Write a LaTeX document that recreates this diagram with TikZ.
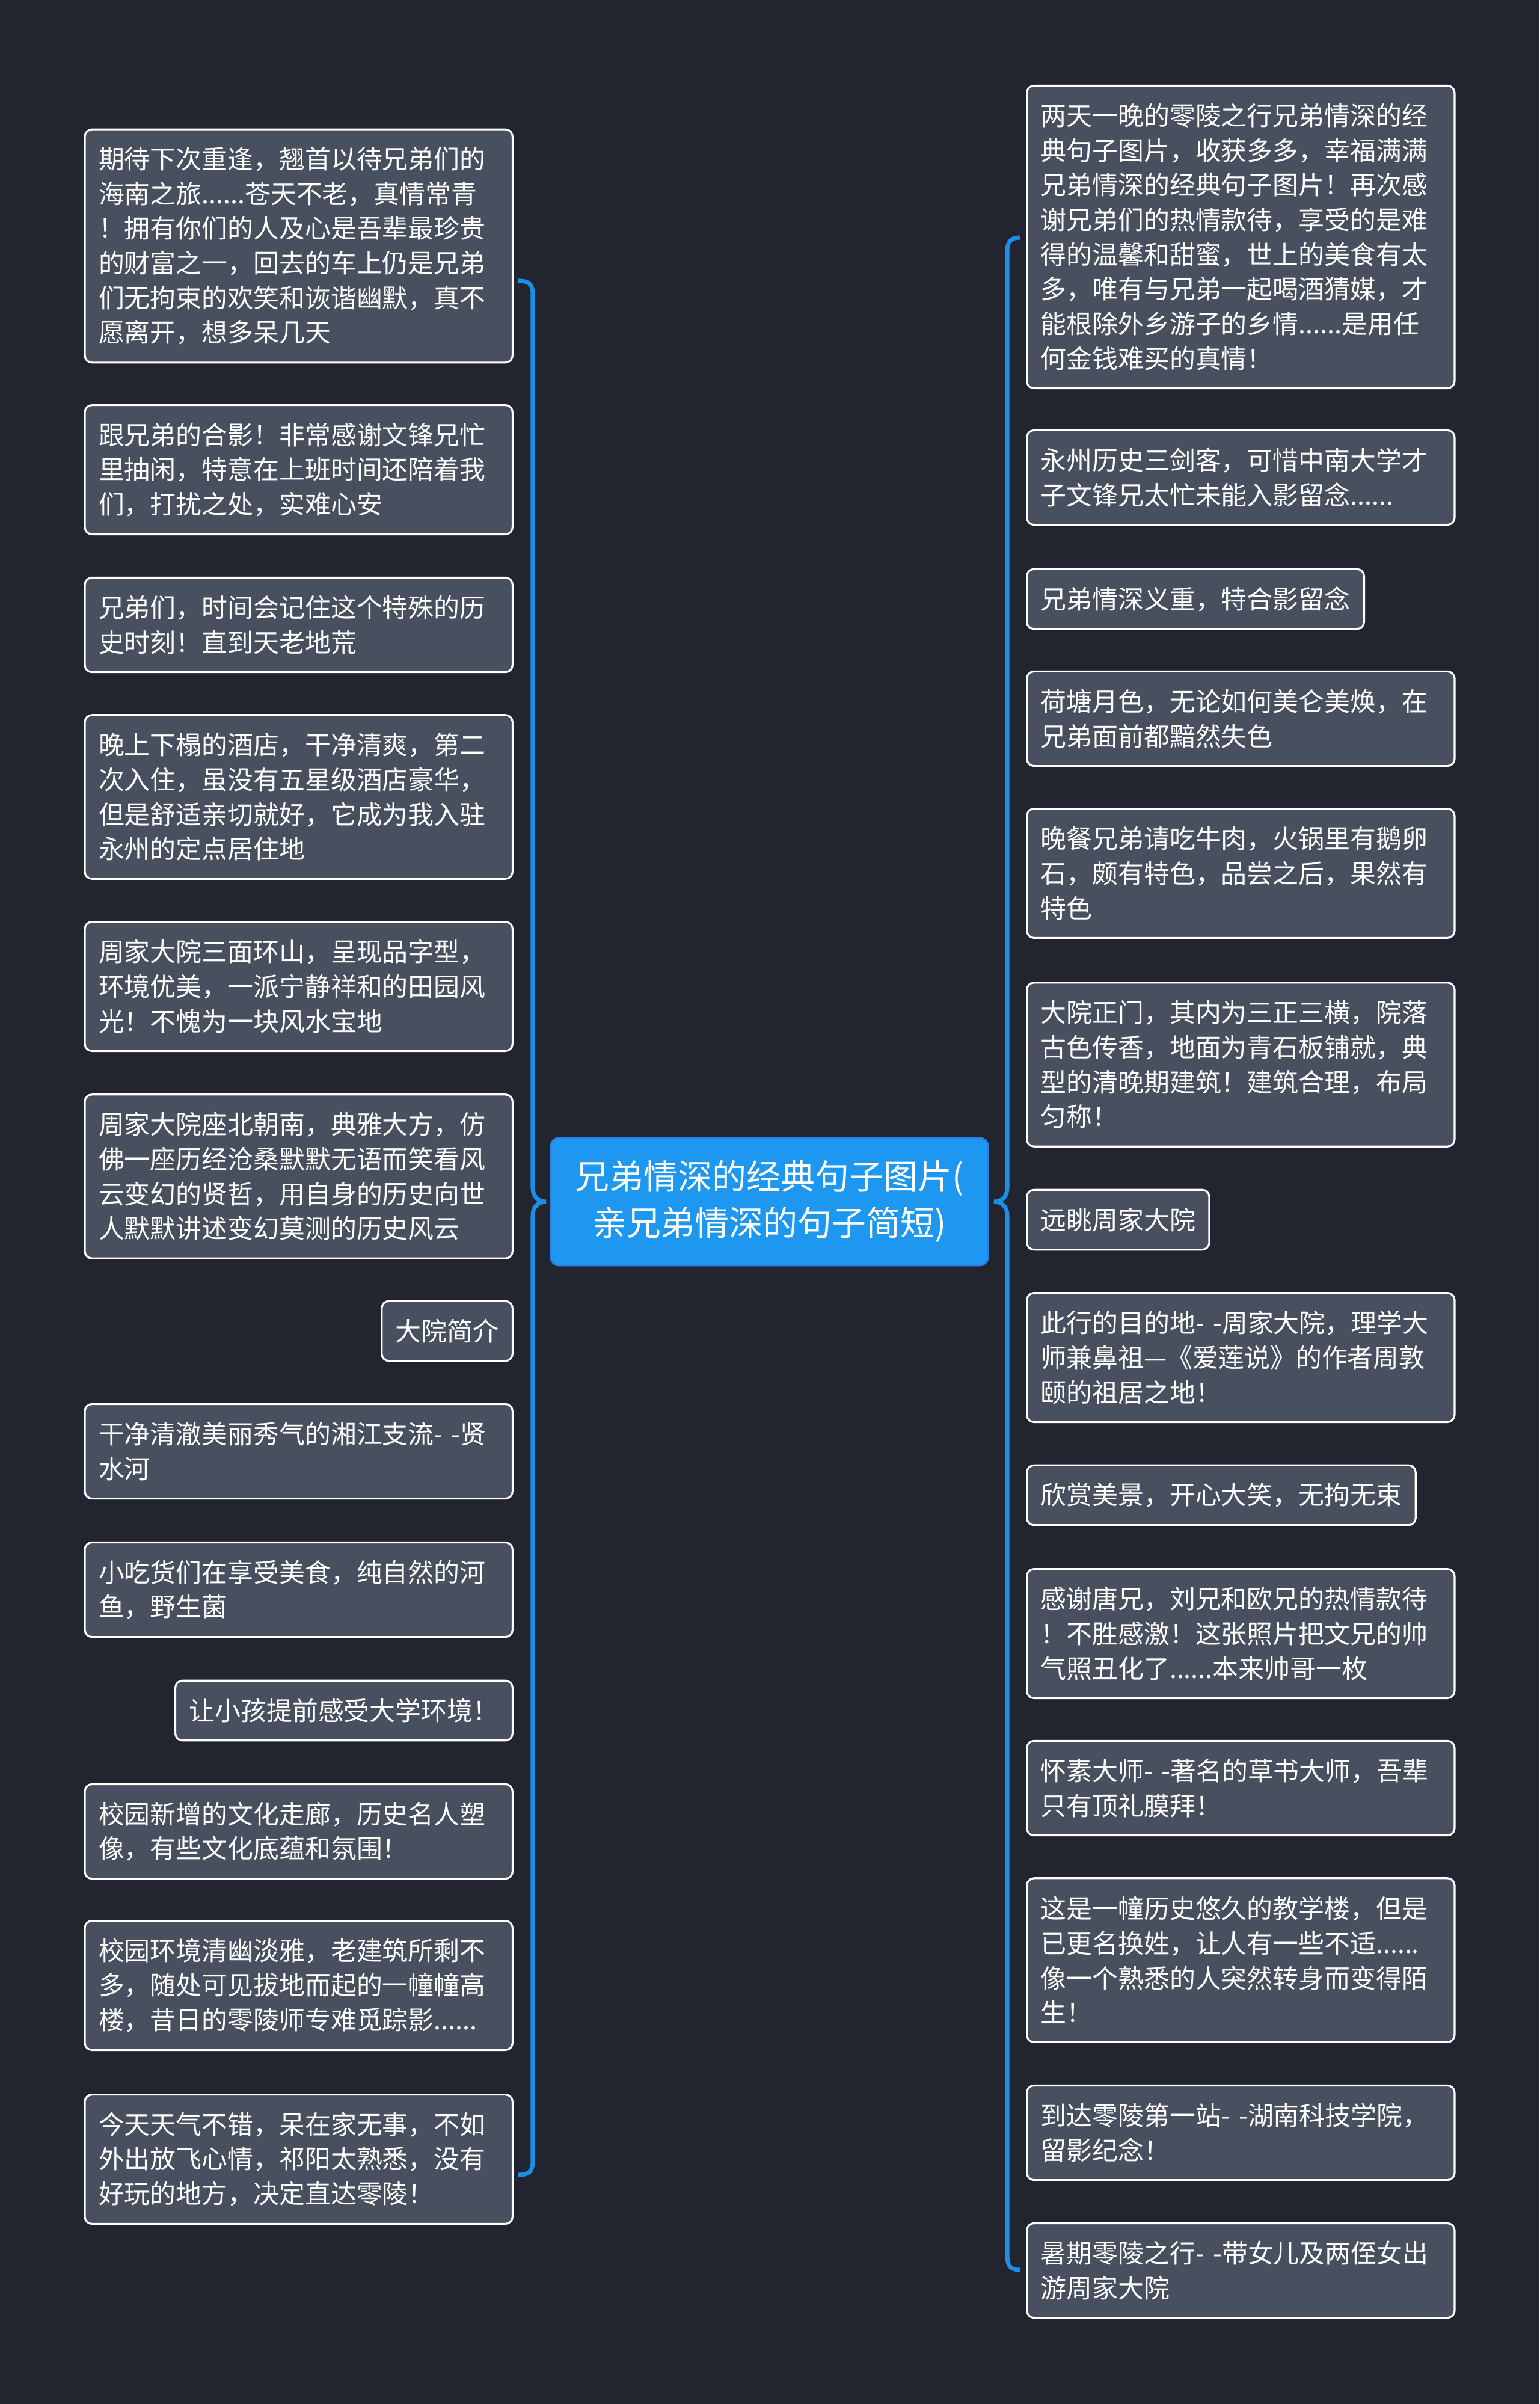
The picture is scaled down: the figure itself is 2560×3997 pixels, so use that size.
\documentclass[tikz,border=0pt]{standalone}
\usepackage{fontspec}
\setmainfont{Noto Sans CJK SC}
\usetikzlibrary{positioning}
\definecolor{bgDark}{HTML}{22252F}
\definecolor{leafFill}{HTML}{484F5E}
\definecolor{branchBlue}{HTML}{1B8FE8}
\definecolor{topicBlue}{HTML}{1D97F0}
\definecolor{topicEdge}{HTML}{2F7DEB}
\tikzset{
    leaf/.style={draw=white, line width=0.9pt, fill=leafFill, text=white, rounded corners=0.12cm,
        inner xsep=0.23cm, inner ysep=0pt, minimum height=0.419cm+#1*0.576cm, align=left},
    para/.style={leaf=#1, text width=6.65cm}
}

\begin{document}
\begin{tikzpicture}[x=0.01cm, y=-0.01cm, font=\fontsize{12.2}{16.4}\selectfont,
        topic/.style={fill=topicBlue, draw=topicEdge, line width=0.8pt, rounded corners=0.14cm,
            text=white, font=\fontsize{16.2}{21.9}\selectfont, align=center,
            minimum width=7.27cm, minimum height=2.12cm},
        branch/.style={draw=branchBlue, line width=2pt}]
        \fill[bgDark] (0,0) rectangle (2560,3997);
        \useasboundingbox (0,0) rectangle (2560,3997);
        \node[topic] (c) at (1279.5,1998) {兄弟情深的经典句子图片(\\亲兄弟情深的句子简短)};
        % left column
        \node[para=6, anchor=east] (l1)  at (854,409)  {期待下次重逢，翘首以待兄弟们的\\海南之旅......苍天不老，真情常青\\！拥有你们的人及心是吾辈最珍贵\\的财富之一，回去的车上仍是兄弟\\们无拘束的欢笑和诙谐幽默，真不\\愿离开，想多呆几天};
        \node[para=3, anchor=east] (l2)  at (854,781)  {跟兄弟的合影！非常感谢文锋兄忙\\里抽闲，特意在上班时间还陪着我\\们，打扰之处，实难心安};
        \node[para=2, anchor=east] (l3)  at (854,1039) {兄弟们，时间会记住这个特殊的历\\史时刻！直到天老地荒};
        \node[para=4, anchor=east] (l4)  at (854,1325) {晚上下榻的酒店，干净清爽，第二\\次入住，虽没有五星级酒店豪华，\\但是舒适亲切就好，它成为我入驻\\永州的定点居住地};
        \node[para=3, anchor=east] (l5)  at (854,1640) {周家大院三面环山，呈现品字型，\\环境优美，一派宁静祥和的田园风\\光！不愧为一块风水宝地};
        \node[para=4, anchor=east] (l6)  at (854,1956) {周家大院座北朝南，典雅大方，仿\\佛一座历经沧桑默默无语而笑看风\\云变幻的贤哲，用自身的历史向世\\人默默讲述变幻莫测的历史风云};
        \node[leaf=1, anchor=east] (l7)  at (854,2213) {大院简介};
        \node[para=2, anchor=east] (l8)  at (854,2413) {干净清澈美丽秀气的湘江支流- -贤\\水河};
        \node[para=2, anchor=east] (l9)  at (854,2643) {小吃货们在享受美食，纯自然的河\\鱼，野生菌};
        \node[leaf=1, anchor=east] (l10) at (854,2844) {让小孩提前感受大学环境！};
        \node[para=2, anchor=east] (l11) at (854,3045) {校园新增的文化走廊，历史名人塑\\像，有些文化底蕴和氛围！};
        \node[para=3, anchor=east] (l12) at (854,3301) {校园环境清幽淡雅，老建筑所剩不\\多，随处可见拔地而起的一幢幢高\\楼，昔日的零陵师专难觅踪影......};
        \node[para=3, anchor=east] (l13) at (854,3590) {今天天气不错，呆在家无事，不如\\外出放飞心情，祁阳太熟悉，没有\\好玩的地方，决定直达零陵！};
        % right column
        \node[para=8, anchor=west] (r1)  at (1706,394)  {两天一晚的零陵之行兄弟情深的经\\典句子图片，收获多多，幸福满满\\兄弟情深的经典句子图片！再次感\\谢兄弟们的热情款待，享受的是难\\得的温馨和甜蜜，世上的美食有太\\多，唯有与兄弟一起喝酒猜媒，才\\能根除外乡游子的乡情......是用任\\何金钱难买的真情！};
        \node[para=2, anchor=west] (r2)  at (1706,794)  {永州历史三剑客，可惜中南大学才\\子文锋兄太忙未能入影留念......};
        \node[leaf=1, anchor=west] (r3)  at (1706,996)  {兄弟情深义重，特合影留念};
        \node[para=2, anchor=west] (r4)  at (1706,1195) {荷塘月色，无论如何美仑美焕，在\\兄弟面前都黯然失色};
        \node[para=3, anchor=west] (r5)  at (1706,1452) {晚餐兄弟请吃牛肉，火锅里有鹅卵\\石，颇有特色，品尝之后，果然有\\特色};
        \node[para=4, anchor=west] (r6)  at (1706,1770) {大院正门，其内为三正三横，院落\\古色传香，地面为青石板铺就，典\\型的清晚期建筑！建筑合理，布局\\匀称！};
        \node[leaf=1, anchor=west] (r7)  at (1706,2028) {远眺周家大院};
        \node[para=3, anchor=west] (r8)  at (1706,2257) {此行的目的地- -周家大院，理学大\\师兼鼻祖—《爱莲说》的作者周敦\\颐的祖居之地！};
        \node[leaf=1, anchor=west] (r9)  at (1706,2486) {欣赏美景，开心大笑，无拘无束};
        \node[para=3, anchor=west] (r10) at (1706,2716) {感谢唐兄，刘兄和欧兄的热情款待\\！不胜感激！这张照片把文兄的帅\\气照丑化了......本来帅哥一枚};
        \node[para=2, anchor=west] (r11) at (1706,2973) {怀素大师- -著名的草书大师，吾辈\\只有顶礼膜拜！};
        \node[para=4, anchor=west] (r12) at (1706,3259) {这是一幢历史悠久的教学楼，但是\\已更名换姓，让人有一些不适......\\像一个熟悉的人突然转身而变得陌\\生！};
        \node[para=2, anchor=west] (r13) at (1706,3546) {到达零陵第一站- -湖南科技学院，\\留影纪念！};
        \node[para=2, anchor=west] (r14) at (1706,3775) {暑期零陵之行- -带女儿及两侄女出\\游周家大院};
        % brackets
        \coordinate (lTop) at (862,467);
        \coordinate (lTip) at (908,1998);
        \coordinate (lBot) at (862,3616);
        \coordinate (rTop) at (1697,395);
        \coordinate (rTip) at (1653,1998);
        \coordinate (rBot) at (1697,3774);
        \draw[branch] (lTop) .. controls (880,467) and (886,473) .. (886,490) -- (886,1975)
            .. controls (886,1990) and (895,1998) .. (lTip) .. controls (895,1998) and (886,2006) .. (886,2021)
            -- (886,3593) .. controls (886,3610) and (880,3616) .. (lBot);
        \draw[branch] (rTop) .. controls (1681,395) and (1675,401) .. (1675,418) -- (1675,1975)
            .. controls (1675,1990) and (1666,1998) .. (rTip) .. controls (1666,1998) and (1675,2006) .. (1675,2021)
            -- (1675,3751) .. controls (1675,3768) and (1681,3774) .. (rBot);
    \end{tikzpicture}
\end{document}
